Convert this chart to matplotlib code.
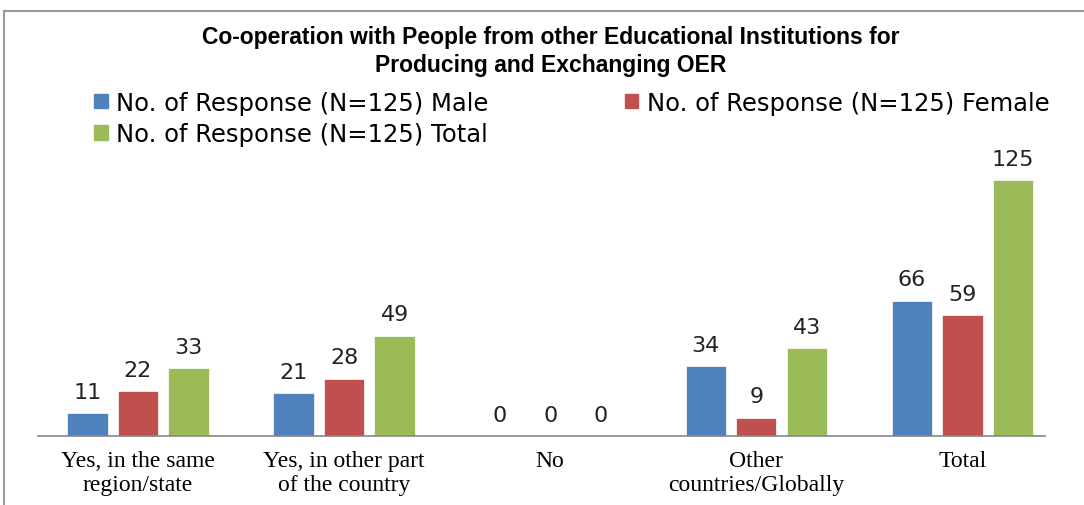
import numpy as np
import matplotlib.pyplot as plt
from matplotlib.patches import Patch
from matplotlib.lines import Line2D

# Datos
categories = ['Yes, in the same\nregion/state', 'Yes, in other part\nof the country', 'No',
              'Other\ncountries/Globally', 'Total']
male = [11, 21, 0, 34, 66]
female = [22, 28, 0, 9, 59]
total = [33, 49, 0, 43, 125]
series_names = ['No. of Response (N=125) Male', 'No. of Response (N=125) Female',
                'No. of Response (N=125) Total']
colors = ['#4F81BD', '#C0504D', '#9BBB59']

fig = plt.figure(figsize=(10.84, 5.06), dpi=100)
ax = fig.add_axes([0.035, 0.1364, 0.929, 0.567])

x = np.arange(len(categories))
w = 0.195
off = 0.245
for i, vals in enumerate([male, female, total]):
    pos = x + (i - 1) * off
    ax.bar(pos, vals, width=w, color=colors[i], edgecolor='white', linewidth=0.5)
    for p, v in zip(pos, vals):
        ax.text(p, v + 5.5, str(v), ha='center', va='bottom', fontsize=16,
                family='DejaVu Sans', color='#222222')

ax.set_xlim(-0.485, 4.40)
ax.set_ylim(0, 140)
for s in ['top', 'right', 'left']:
    ax.spines[s].set_visible(False)
ax.spines['bottom'].set_color('#868686')
ax.spines['bottom'].set_linewidth(1.2)
ax.set_yticks([])
ax.set_xticks(x)
ax.set_xticklabels(categories, family='Liberation Serif', fontsize=17, linespacing=1.2)
ax.tick_params(axis='x', length=0, pad=10)

# Título
fig.text(0.508, 0.898, 'Co-operation with People from other Educational Institutions for\n'
         'Producing and Exchanging OER', ha='center', va='center', fontsize=16.5,
         fontweight='bold', family='Liberation Sans', linespacing=1.25)

# Leyenda
handles = [Patch(color=c) for c in colors]
order = [0, 2, 1]
fig.legend([handles[i] for i in order], [series_names[i] for i in order],
           ncol=2, loc='upper left', bbox_to_anchor=(0.078, 0.838), frameon=False,
           handlelength=0.55, handleheight=0.55, handletextpad=0.35,
           columnspacing=5.6, labelspacing=0.3, borderaxespad=0,
           prop={'family': 'DejaVu Sans', 'size': 17.5})

# Marco
fig.add_artist(Line2D([0.004, 0.004], [0, 0.976], color='#9a9a9a', lw=1.5))
fig.add_artist(Line2D([0.004, 1.0], [0.976, 0.976], color='#9a9a9a', lw=1.5))

fig.savefig('out.png', dpi=100)
